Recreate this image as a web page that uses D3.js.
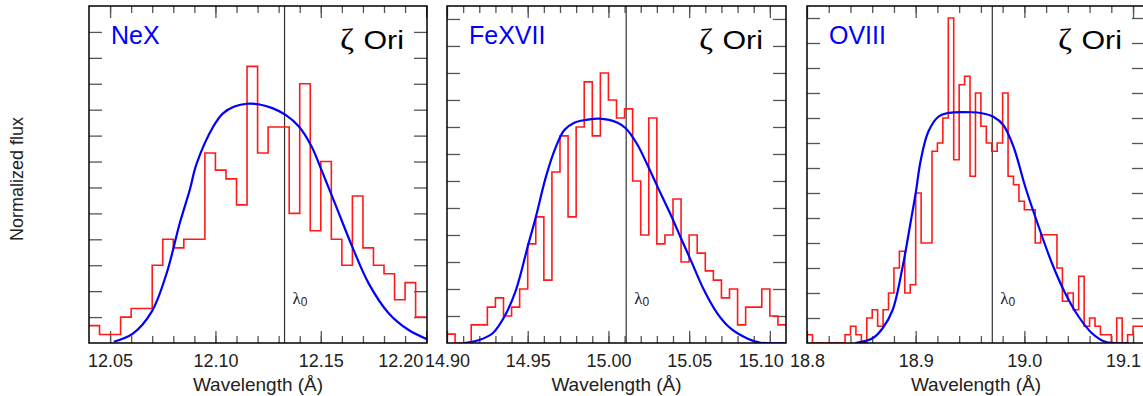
<!DOCTYPE html>
<html><head><meta charset="utf-8">
<script src="https://cdn.jsdelivr.net/npm/d3@7"></script>
<style>html,body{margin:0;padding:0;background:#fff;} svg{display:block;}</style>
</head><body><svg id="chart" width="1143" height="396"></svg>
<script>
// ---------------- DATA ----------------
const binWidth = 0.005;

// Ne X 12.13 A
const neBins = [12.040,12.045,12.050,12.055,12.060,12.065,12.070,12.075,12.080,12.085,12.090,12.095,12.100,12.105,12.110,12.115,12.120,12.125,12.130,12.135,12.140,12.145,12.150,12.155,12.160,12.165,12.170,12.175,12.180,12.185,12.190,12.195];
const neFlux = [0.67,0.33,0.33,1.00,1.33,1.33,3.00,4.00,3.67,4.00,4.00,7.33,6.67,6.33,5.33,10.67,7.33,8.33,8.33,5.00,10.00,4.33,7.00,4.00,3.00,5.67,3.67,3.00,2.67,1.67,2.33,1.00];
const neModelWave = [12.0518,12.0608,12.0697,12.0768,12.0831,12.0878,12.091,12.0989,12.1036,12.109,12.115,12.121,12.127,12.1333,12.1396,12.1455,12.1507,12.1569,12.1649,12.1727,12.1822,12.1917,12.2004];
const neModelFlux = [0.05,0.36,1.2,2.68,4.63,5.9,6.9,8.34,8.86,9.12,9.23,9.2,9.06,8.80,8.35,7.6,6.6,5.35,3.72,2.30,1.15,0.50,0.15];
const neLambda0 = 12.1328;
const neTicks = [12.05,12.10,12.15,12.20];
const neTickLabels = ["12.05","12.10","12.15","12.20"];

// Fe XVII 15.01 A
const feBins = [14.900,14.905,14.910,14.915,14.920,14.925,14.930,14.935,14.940,14.945,14.950,14.955,14.960,14.965,14.970,14.975,14.980,14.985,14.990,14.995,15.000,15.005,15.010,15.015,15.020,15.025,15.030,15.035,15.040,15.045,15.050,15.055,15.060,15.065,15.070,15.075,15.080,15.085,15.090,15.095,15.100,15.105];
const feFlux = [0.33,0,0,0.67,0.67,1.33,1.67,1.00,1.33,2.00,3.67,4.67,2.33,6.33,7.67,4.67,8.00,9.67,7.67,10.00,9.00,8.33,8.67,6.00,4.00,8.33,3.67,4.00,5.33,3.00,4.00,3.33,2.67,2.33,1.67,2.00,0.67,1.33,1.33,2.00,1.00,0.67];
const feModelWave = [14.9107,14.92,14.9283,14.9355,14.9427,14.95,14.9551,14.9613,14.9675,14.9727,14.9789,14.9861,14.9943,15.0057,15.0107,15.0179,15.0241,15.0303,15.0386,15.0448,15.051,15.0592,15.0674,15.0757,15.086,15.0943,15.11];
const feModelFlux = [0,0.11,0.36,0.97,1.96,3.57,4.68,6.16,7.27,7.89,8.16,8.26,8.31,8.16,7.95,7.35,6.6,5.8,4.75,3.9,3.07,1.96,1.10,0.54,0.17,0.01,0];
const feLambda0 = 15.011;
const feTicks = [14.90,14.95,15.00,15.05,15.10];
const feTickLabels = ["14.90","14.95","15.00","15.05","15.10"];

// O VIII 18.97 A
const oBins = [18.800,18.805,18.810,18.815,18.820,18.825,18.830,18.835,18.840,18.845,18.850,18.855,18.860,18.865,18.870,18.875,18.880,18.885,18.890,18.895,18.900,18.905,18.910,18.915,18.920,18.925,18.930,18.935,18.940,18.945,18.950,18.955,18.960,18.965,18.970,18.975,18.980,18.985,18.990,18.995,19.000,19.005,19.010,19.015,19.020,19.025,19.030,19.035,19.040,19.045,19.050,19.055,19.060,19.065,19.070,19.075,19.080,19.085,19.090,19.095,19.100,19.105];
const oFlux = [0.33,0,0,0,0,0,0,0.33,0.67,0.33,0,1.00,1.33,0.67,1.33,2.00,3.00,3.67,2.00,2.33,6.00,4.00,4.00,7.67,8.00,9.00,13.00,7.33,10.33,10.67,6.67,10.00,8.67,8.00,7.67,8.00,10.00,6.67,6.33,5.67,5.33,5.33,4.00,4.33,4.33,4.33,3.00,1.67,2.00,1.33,2.67,0.67,1.00,0.67,0.33,0.33,0,1.00,0,0.33,0.67,0.67];
const oModelWave = [18.8444,18.8604,18.8696,18.8788,18.888,18.8957,18.9,18.9046,18.9116,18.9208,18.9285,18.9518,18.9607,18.9714,18.9806,18.99,19.0008,19.0132,19.0254,19.0376,19.05,19.0622,19.0744,19.096];
const oModelFlux = [0,0.19,0.59,1.32,3.05,4.92,5.99,7.3,8.45,9.05,9.19,9.23,9.19,9.05,8.72,7.85,6.25,4.65,3.19,1.99,1.05,0.39,0.05,0];
const oLambda0 = 18.9705;
const oTicks = [18.8,18.9,19.0,19.1];
const oTickLabels = ["18.8","18.9","19.0","19.1"];

const ionNames = ["NeX","FeXVII","OVIII"];
const starName = "Ori";

// ---------------- LAYOUT ----------------
const yTop = 6, yBottom = 343;
const panels = [
  {name: ionNames[0], bins: neBins, flux: neFlux, mw: neModelWave, mf: neModelFlux, l0: neLambda0,
   xDomain: [12.04, 12.2004], yMax: 13.0, ticks: neTicks, labels: neTickLabels, minorStep: 0.01,
   left: 89, right: 427, lastShift: -26},
  {name: ionNames[1], bins: feBins, flux: feFlux, mw: feModelWave, mf: feModelFlux, l0: feLambda0,
   xDomain: [14.9, 15.11], yMax: 12.48, ticks: feTicks, labels: feTickLabels, minorStep: 0.01,
   left: 447, right: 786, lastShift: -9},
  {name: ionNames[2], bins: oBins, flux: oFlux, mw: oModelWave, mf: oModelFlux, l0: oLambda0,
   xDomain: [18.8, 19.111], yMax: 13.48, ticks: oTicks, labels: oTickLabels, minorStep: 0.02,
   left: 807, right: 1145, lastShift: -10}
];

const svg = d3.select("#chart");
const sans = "'Liberation Sans', Arial, Helvetica, sans-serif";
const serif = "'Liberation Serif', 'Times New Roman', serif";

svg.append("text")
  .attr("transform", "translate(23,179) rotate(-90)")
  .attr("text-anchor", "middle")
  .attr("font-family", sans).attr("font-size", 18).attr("fill", "#222")
  .text("Normalized flux");

panels.forEach((p, pi) => {
  const x = d3.scaleLinear().domain(p.xDomain).range([p.left, p.right]);
  const y = d3.scaleLinear().domain([0, p.yMax]).range([yBottom, yTop]);
  const g = svg.append("g");

  const clipId = "clip" + pi;
  svg.append("clipPath").attr("id", clipId).append("rect")
    .attr("x", p.left).attr("y", yTop).attr("width", p.right - p.left).attr("height", yBottom - yTop);

  const minor = d3.range(Math.round((p.xDomain[1]-p.xDomain[0])/p.minorStep)+1)
      .map(i => +(p.xDomain[0] + i*p.minorStep).toFixed(4))
      .filter(v => v > p.xDomain[0] + 1e-6 && v < p.xDomain[1] - 1e-6);
  const yt = d3.range(1, Math.ceil(p.yMax));

  const styleAxis = sel => {
    sel.select(".domain").remove();
    sel.selectAll(".tick line").attr("stroke", "#555").attr("stroke-width", 1.3);
  };

  g.append("g").attr("transform", `translate(0,${yBottom})`)
    .call(d3.axisBottom(x).tickValues(minor).tickSize(-7).tickFormat(""))
    .call(styleAxis);
  const bx = g.append("g").attr("transform", `translate(0,${yBottom})`)
    .call(d3.axisBottom(x).tickValues(p.ticks).tickSize(-12).tickPadding(11)
      .tickFormat((d, i) => p.labels[i]))
    .call(styleAxis);
  bx.selectAll(".tick text").attr("font-family", sans).attr("font-size", 18).attr("fill", "#222");
  bx.selectAll(".tick").filter((d, i) => i === p.ticks.length - 1)
    .select("text").attr("dx", p.lastShift);
  g.append("g").attr("transform", `translate(0,${yTop})`)
    .call(d3.axisTop(x).tickValues(minor).tickSize(-7).tickFormat(""))
    .call(styleAxis);
  g.append("g").attr("transform", `translate(0,${yTop})`)
    .call(d3.axisTop(x).tickValues(p.ticks).tickSize(-12).tickFormat(""))
    .call(styleAxis);
  g.append("g").attr("transform", `translate(${p.left},0)`)
    .call(d3.axisLeft(y).tickValues(yt).tickSize(-13).tickFormat(""))
    .call(styleAxis);
  g.append("g").attr("transform", `translate(${p.right},0)`)
    .call(d3.axisRight(y).tickValues(yt).tickSize(-13).tickFormat(""))
    .call(styleAxis);

  g.append("line")
    .attr("x1", x(p.l0)).attr("x2", x(p.l0)).attr("y1", yTop).attr("y2", yBottom)
    .attr("stroke", "#333").attr("stroke-width", 1.2);
  const lt = g.append("text").attr("x", x(p.l0) + 8).attr("y", 303.5)
    .attr("font-family", serif).attr("font-size", 17).attr("fill", "#222");
  lt.append("tspan").text("λ");
  lt.append("tspan").attr("font-family", sans).attr("font-size", 12).attr("dy", 2).text("0");

  const dg = g.append("g").attr("clip-path", `url(#${clipId})`);
  const pts = p.bins.map((b, i) => [b, p.flux[i]]);
  pts.push([p.bins[p.bins.length-1] + binWidth, p.flux[p.flux.length-1]]);
  dg.append("path").datum(pts)
    .attr("d", d3.line().x(d => x(d[0])).y(d => y(d[1])).curve(d3.curveStepAfter))
    .attr("fill", "none").attr("stroke", "#ff1a1a").attr("stroke-width", 1.6);
  const mp = p.mw.map((w, i) => [w, p.mf[i]]);
  dg.append("path").datum(mp)
    .attr("d", d3.line().x(d => x(d[0])).y(d => y(d[1])).curve(d3.curveCatmullRom.alpha(0.5)))
    .attr("fill", "none").attr("stroke", "#0000ff").attr("stroke-width", 2.2);

  g.append("rect").attr("x", p.left).attr("y", yTop)
    .attr("width", p.right - p.left).attr("height", yBottom - yTop)
    .attr("fill", "none").attr("stroke", "#000").attr("stroke-width", 1.5);

  g.append("text").attr("x", p.left + 22).attr("y", 43.5)
    .attr("font-family", sans).attr("font-size", 25).attr("fill", "#0000ff")
    .text(p.name);
  const st = g.append("text")
    .attr("transform", `translate(${p.right - 23},48.5) scale(1.17,1)`)
    .attr("text-anchor", "end").attr("font-family", sans).attr("font-size", 26).attr("fill", "#000");
  st.append("tspan").attr("font-family", serif).attr("font-size", 29).text("ζ");
  st.append("tspan").attr("dx", 8).text(starName);

  g.append("text").attr("x", (p.left + p.right) / 2).attr("y", 391)
    .attr("text-anchor", "middle").attr("font-family", sans).attr("font-size", 19).attr("fill", "#222")
    .text("Wavelength (Å)");
});
</script></body></html>
